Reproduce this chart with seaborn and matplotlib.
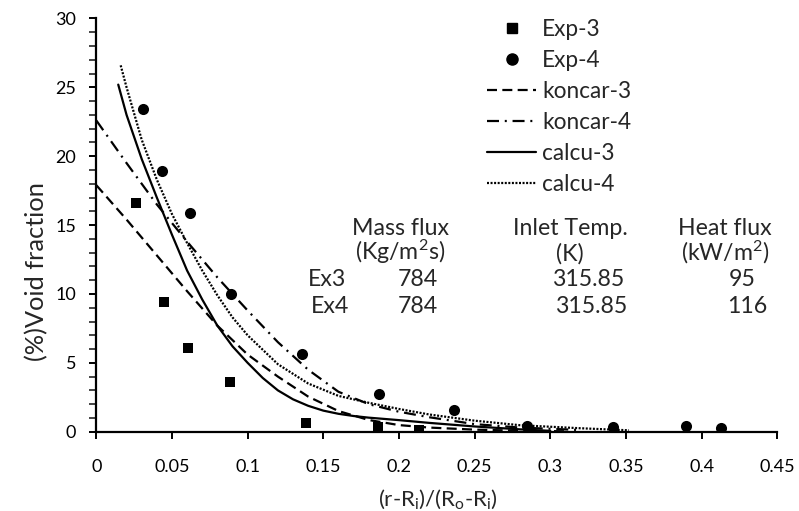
import matplotlib
matplotlib.use("Agg")
import matplotlib.pyplot as plt
from matplotlib.lines import Line2D
from matplotlib.ticker import MultipleLocator
import seaborn as sns
import pandas as pd

# ---- experimental data ----
exp3_x = [0.026, 0.045, 0.0608, 0.0884, 0.1386, 0.186, 0.2135]
exp3_y = [16.6, 9.4, 6.1, 3.6, 0.63, 0.34, 0.15]
exp4_x = [0.031, 0.0431, 0.0619, 0.0888, 0.1357, 0.1868, 0.2364, 0.2845, 0.3417, 0.3896, 0.4127]
exp4_y = [23.45, 18.9, 15.9, 10.0, 5.66, 2.76, 1.55, 0.39, 0.34, 0.39, 0.27]

# ---- model curves ----
koncar3_x = [0.0, 0.02, 0.04, 0.06, 0.08, 0.10, 0.12, 0.14, 0.16, 0.18, 0.20, 0.22, 0.25, 0.28, 0.31]
koncar3_y = [17.9, 15.4, 12.8, 10.2, 7.7, 5.6, 4.0, 2.55, 1.5, 0.85, 0.48, 0.3, 0.15, 0.07, 0.03]
koncar4_x = [0.0, 0.02, 0.04, 0.06, 0.08, 0.10, 0.12, 0.14, 0.16, 0.18, 0.20, 0.22, 0.25, 0.28, 0.32]
koncar4_y = [22.6, 19.5, 16.5, 13.8, 11.2, 8.8, 6.5, 4.5, 2.9, 2.0, 1.45, 1.05, 0.55, 0.3, 0.12]
calcu3_x = [0.0145, 0.02, 0.03, 0.04, 0.05, 0.06, 0.07, 0.08, 0.09, 0.10, 0.11, 0.12, 0.13, 0.14,
            0.15, 0.16, 0.17, 0.18, 0.20, 0.22, 0.25, 0.28, 0.30]
calcu3_y = [25.2, 23.0, 19.8, 17.0, 14.3, 11.7, 9.6, 7.7, 6.2, 5.0, 3.9, 3.0, 2.35, 1.88,
            1.53, 1.3, 1.14, 1.02, 0.84, 0.64, 0.38, 0.17, 0.06]
calcu4_x = [0.0161, 0.02, 0.03, 0.04, 0.05, 0.06, 0.07, 0.08, 0.09, 0.10, 0.12, 0.14, 0.16,
            0.18, 0.20, 0.22, 0.25, 0.28, 0.32, 0.352]
calcu4_y = [26.6, 25.0, 21.2, 18.3, 15.8, 13.7, 11.7, 9.9, 8.3, 7.0, 4.9, 3.5, 2.6,
            2.1, 1.65, 1.25, 0.8, 0.47, 0.25, 0.1]

labels = ["Exp-3", "Exp-4", "koncar-3", "koncar-4", "calcu-3", "calcu-4"]
xticks = [0, 0.05, 0.1, 0.15, 0.2, 0.25, 0.3, 0.35, 0.4, 0.45]
xtick_labels = ["0", "0.05", "0.1", "0.15", "0.2", "0.25", "0.3", "0.35", "0.4", "0.45"]
yticks = [0, 5, 10, 15, 20, 25, 30]

table_header1 = ["Mass flux", "Inlet Temp.", "Heat flux"]
table_header2 = ["(Kg/m$^\\mathregular{2}$s)", "(K)", "(kW/m$^\\mathregular{2}$)"]
table_rows = ["Ex3", "Ex4"]
table_vals = [["784", "315.85", "95"], ["784", "315.85", "116"]]

sns.set_style("white")
FONT = "Lato"
plt.rcParams["font.family"] = [FONT, "DejaVu Sans"]
plt.rcParams["mathtext.fontset"] = "custom"
plt.rcParams["mathtext.rm"] = FONT
plt.rcParams["mathtext.it"] = FONT

W, H = 799, 511
DPI = 100
fig = plt.figure(figsize=(W / DPI, H / DPI), dpi=DPI)
renderer = fig.canvas.get_renderer()


def fx(px):
    return px / W


def fy(py):
    return 1 - py / H


def text_width(s, size):
    t = fig.text(0, 0, s, fontsize=size)
    w = t.get_window_extent(renderer=renderer).width
    t.remove()
    return w


def fit(s, target_px, base=14.0):
    return base * target_px / text_width(s, base)


TICK_FS = fit("0.05", 36)
LEG_FS = fit("calcu-4", 73)
TAB_FS = (fit("Mass flux", 97) + fit("315.85", 73) + fit("Inlet Temp.", 114)) / 3
YL_FS = fit("(%)Void fraction", 180)
XL_FS = fit("(r-R$_\\mathregular{i}$)/(R$_\\mathregular{o}$-R$_\\mathregular{i}$)", 121)

X0, X1, Y0, Y1 = 96.3, 777.3, 431.7, 18.5
ax = fig.add_axes([fx(X0), fy(Y0), (X1 - X0) / W, (Y0 - Y1) / H])

LW = 1.6
dash3 = (0, (4.5, 2.4))
dashdot4 = (0, (5.4, 2.6, 0.9, 2.6))
dot4 = (0, (0.9, 0.7))


def line(xs, ys, ls):
    df = pd.DataFrame({"x": xs, "y": ys})
    sns.lineplot(data=df, x="x", y="y", ax=ax, color="black", linewidth=LW,
                 linestyle=ls, sort=False, estimator=None)


line(koncar3_x, koncar3_y, dash3)
line(koncar4_x, koncar4_y, dashdot4)
line(calcu3_x, calcu3_y, "-")
line(calcu4_x, calcu4_y, dot4)

sns.scatterplot(x=exp3_x, y=exp3_y, ax=ax, marker="s", s=58, color="black",
                edgecolor="black", linewidth=0, zorder=5)
sns.scatterplot(x=exp4_x, y=exp4_y, ax=ax, marker="o", s=64, color="black",
                edgecolor="black", linewidth=0, zorder=5)

ax.set_xlim(0, 0.45)
ax.set_ylim(0, 30)
ax.set_xticks(xticks)
ax.set_xticklabels(xtick_labels)
ax.set_yticks(yticks)
ax.yaxis.set_minor_locator(MultipleLocator(1))
for s in ["top", "right"]:
    ax.spines[s].set_visible(False)
for s in ["left", "bottom"]:
    ax.spines[s].set_color("black")
    ax.spines[s].set_linewidth(1.6)
ax.tick_params(axis="x", which="major", direction="out", length=5, width=1.4,
               bottom=True, labelsize=TICK_FS, pad=14.5, colors="black")
ax.tick_params(axis="y", which="major", direction="out", length=5, width=1.4,
               left=True, labelsize=TICK_FS, pad=9.5, colors="black")
ax.tick_params(axis="y", which="minor", direction="out", length=5, width=1.2, left=True)
ax.set_xlabel("")
ax.set_ylabel("")

fig.text(fx(36.7), fy(272), "(%)Void fraction", rotation=90, ha="center", va="center",
         fontsize=YL_FS)
fig.text(fx(438), fy(499), "(r-R$_\\mathregular{i}$)/(R$_\\mathregular{o}$-R$_\\mathregular{i}$)",
         ha="center", va="center", fontsize=XL_FS)

# ---- legend ----
handles = [
    Line2D([], [], color="black", marker="s", linestyle="none", markersize=7.6),
    Line2D([], [], color="black", marker="o", linestyle="none", markersize=8.0),
    Line2D([], [], color="black", linestyle=dash3, linewidth=LW),
    Line2D([], [], color="black", linestyle=dashdot4, linewidth=LW),
    Line2D([], [], color="black", linestyle="-", linewidth=LW),
    Line2D([], [], color="black", linestyle=dot4, linewidth=LW),
]
fs_px = LEG_FS * DPI / 72.0
HL = 49 / fs_px
HTP = 6 / fs_px


def make_legend(ls, anchor):
    return ax.legend(handles, labels, loc="upper left", bbox_to_anchor=anchor,
                     bbox_transform=fig.transFigure, frameon=False, fontsize=LEG_FS,
                     handlelength=HL, handletextpad=HTP, labelspacing=ls,
                     borderpad=0, borderaxespad=0)


LS = 0.5
anchor = (fx(487), fy(14))
leg = make_legend(LS, anchor)
fig.canvas.draw()
cs = [(t.get_window_extent(renderer).y0 + t.get_window_extent(renderer).y1) / 2 for t in leg.get_texts()]
spacing = (cs[0] - cs[-1]) / (len(cs) - 1)
LS = LS + (31.0 - spacing) / fs_px
leg = make_legend(LS, anchor)
fig.canvas.draw()
bb = leg.get_texts()[0].get_window_extent(renderer)
cy_top = H - (bb.y0 + bb.y1) / 2
dx = 542 - bb.x0
dy = 29.5 - cy_top
anchor = (fx(487 + dx), fy(14 + dy))
leg = make_legend(LS, anchor)

# ---- info table ----
tab_em = TAB_FS * DPI / 72.0
off = 0.358 * tab_em
col_x = [400, 570, 725]
for cx, h1, h2 in zip(col_x, table_header1, table_header2):
    fig.text(fx(cx), fy(227 + off), h1, ha="center", va="baseline", fontsize=TAB_FS)
    fig.text(fx(cx), fy(252 + off), h2, ha="center", va="baseline", fontsize=TAB_FS)
row_y = [278, 305]
row_lab_x = [327.5, 330.5]
val_x = [[418, 588, 742], [418, 591, 747]]
for ry, lx, lab, vals, vx in zip(row_y, row_lab_x, table_rows, table_vals, val_x):
    fig.text(fx(lx), fy(ry + off), lab, ha="center", va="baseline", fontsize=TAB_FS)
    for x, v in zip(vx, vals):
        fig.text(fx(x), fy(ry + off), v, ha="center", va="baseline", fontsize=TAB_FS)

fig.savefig("out.png", dpi=DPI)
